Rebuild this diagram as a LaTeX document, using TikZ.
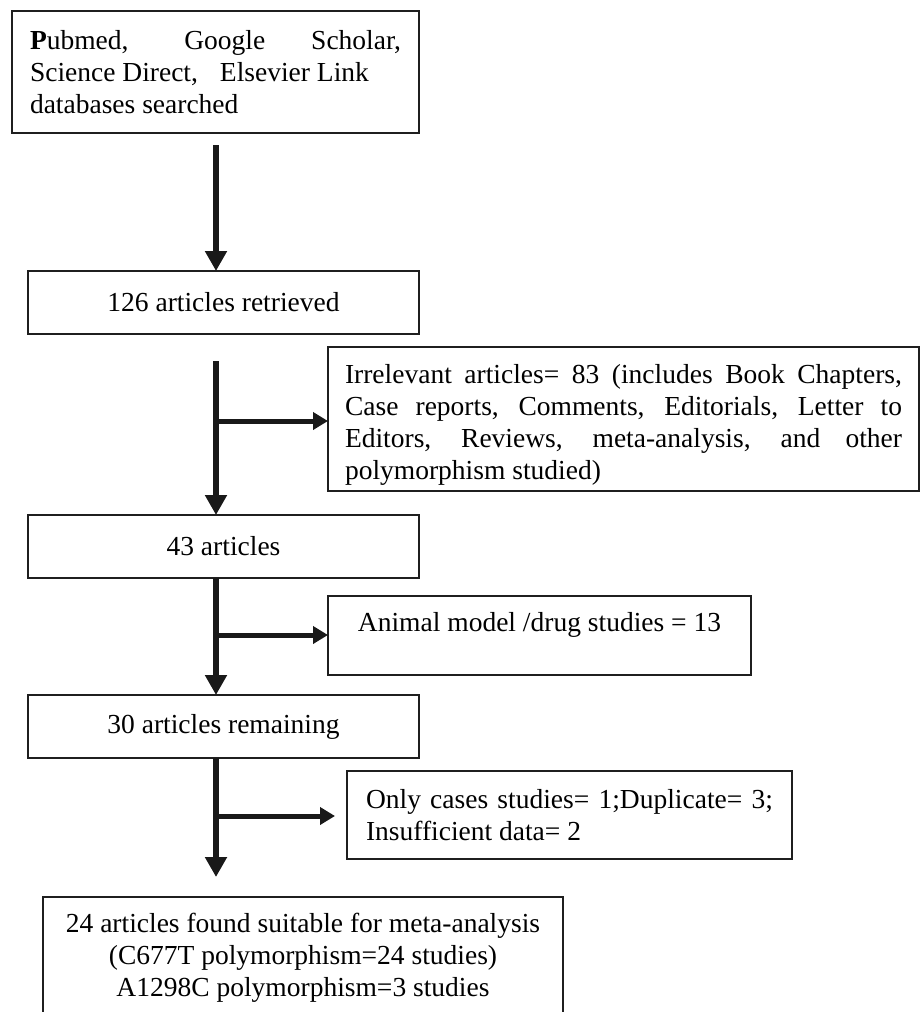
\documentclass[tikz,border=0pt]{standalone}
\usepackage{fontspec}
\setmainfont{Liberation Serif}
\usetikzlibrary{arrows.meta,calc}
\newcommand\bodyfont{\fontsize{27.5}{32}\selectfont}
\begin{document}
\begin{tikzpicture}[x=1pt,y=-1pt,
  box/.style={draw=black!88, line width=1.6pt, inner sep=0pt, outer sep=0pt, font=\bodyfont},
  varrow/.style={draw=black!90, line width=6.5pt, -{Triangle[length=20pt,width=21pt]}},
  harrow/.style={draw=black!90, line width=5pt, -{Triangle[length=15pt,width=17pt]}},
  txt/.style={inner sep=0pt, font=\bodyfont}]
\clip (0,0) rectangle (920,1012);
\fill[white] (0,0) rectangle (920,1012);

\node[box, minimum width=407pt, minimum height=122pt, align=left] (src) at (215.5,72)
  {\makebox[371pt][s]{\textbf{P}ubmed, Google Scholar,}\\Science Direct,\hspace{22pt}Elsevier Link\\databases searched};
\node[box, minimum width=391pt, minimum height=63pt] (ret) at (223.5,302.5) {126 articles retrieved};
\node[box, minimum width=591pt, minimum height=144pt, align=left] (irr) at (623.5,419)
  {\makebox[557pt][s]{\rule{0pt}{31pt}Irrelevant articles= 83 (includes Book Chapters,}\\
   \makebox[557pt][s]{Case reports, Comments, Editorials, Letter to}\\
   \makebox[557pt][s]{Editors, Reviews, meta-analysis, and other}\\
   polymorphism studied)};
\node[box, minimum width=391pt, minimum height=63pt] (a43) at (223.5,546.5) {43 articles};
\node[box, minimum width=423pt, minimum height=79pt, align=center] (ani) at (539.5,635.5)
  {\rule{0pt}{24pt}Animal model /drug studies = 13\\\mbox{}};
\node[box, minimum width=391pt, minimum height=63pt] (a30) at (223.5,726.5) {30 articles remaining};
\node[box, minimum width=445pt, minimum height=88pt, align=left] (exc) at (569.5,815)
  {\makebox[407pt][s]{Only cases studies= 1;Duplicate= 3;}\\Insufficient data= 2};
\node[box, minimum width=520pt, minimum height=140pt] (fin) at (303,967) {};
\node[txt, align=center] (fintxt) at (303,958)
  {24 articles found suitable for meta-analysis\\(C677T polymorphism=24 studies)\\A1298C polymorphism=3 studies};

\coordinate (s2) at (216,361);
\coordinate (j1) at (216,421);
\coordinate (j2) at (216,635);
\coordinate (j3) at (216,816);

\draw[varrow, shorten <=12pt] (src.south -| j1) -- (j1 |- ret.north);
\draw[varrow] (s2) -- (s2 |- a43.north);
\draw[varrow] (a43.south -| j2) -- (j2 |- a30.north);
\draw[varrow, shorten >=20pt] (a30.south -| j3) -- (j3 |- fin.north);
\draw[harrow] (j1) -- (j1 -| irr.west);
\draw[harrow] (j2) -- (j2 -| ani.west);
\draw[harrow, shorten >=12pt] (j3) -- (j3 -| exc.west);
\end{tikzpicture}
\end{document}
